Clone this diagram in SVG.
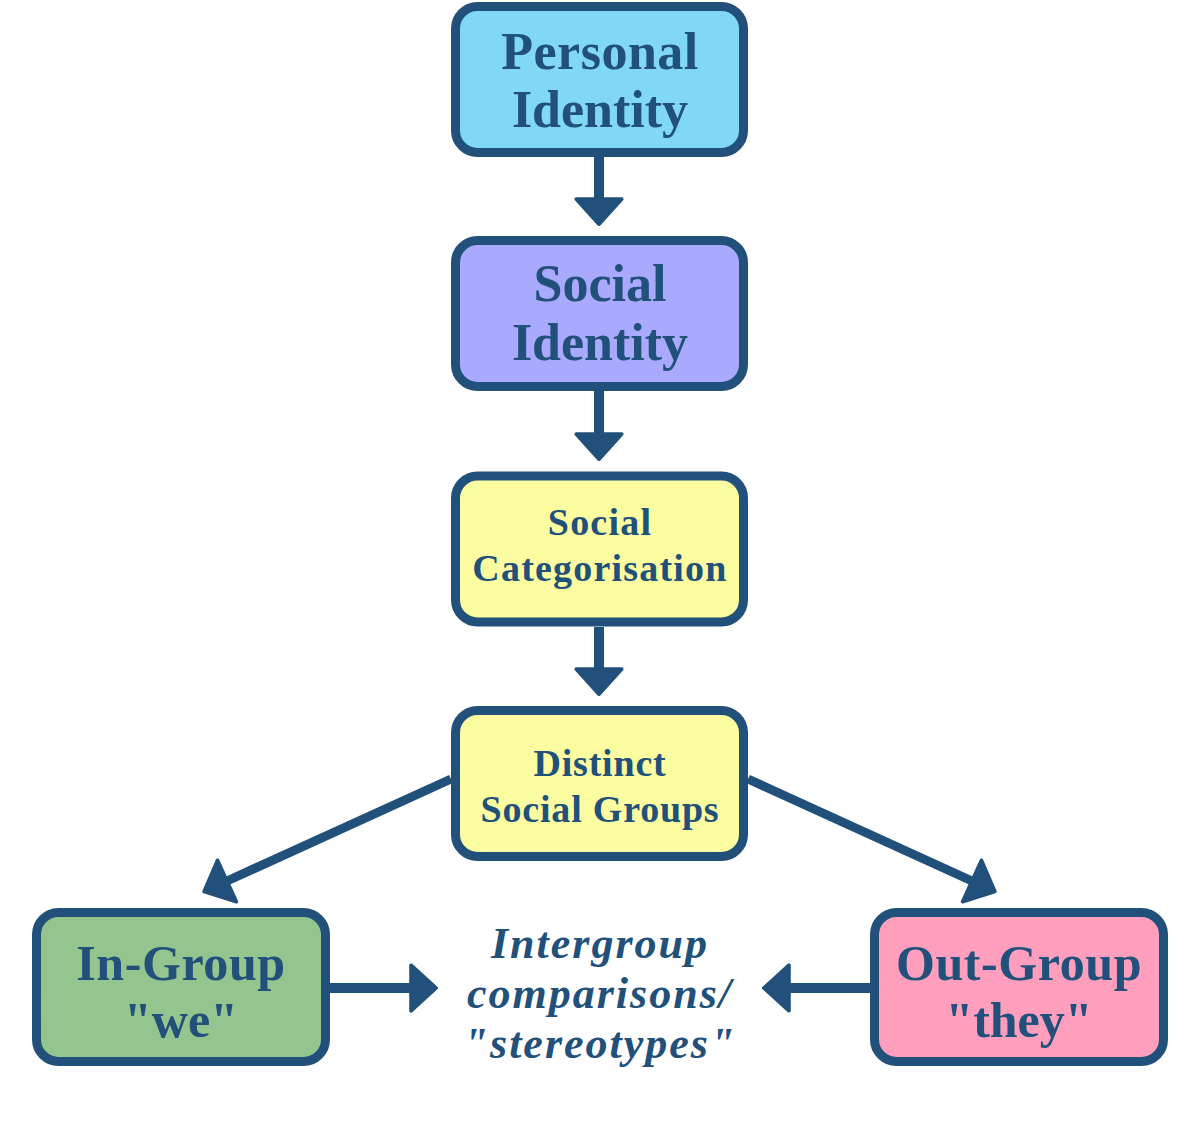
<svg xmlns="http://www.w3.org/2000/svg" width="1200" height="1132" viewBox="0 0 1200 1132">
<style>
.box{stroke:#21507A;stroke-width:9}
.t{font-family:"Liberation Serif","DejaVu Serif",serif;font-weight:bold;fill:#21507A;text-anchor:middle}
.it{font-style:italic}
.c{stroke:#21507A;stroke-width:10;fill:none}
</style>
<defs>
<marker id="ah" markerUnits="userSpaceOnUse" markerWidth="60" markerHeight="60" viewBox="-5 -25 35 50" refX="0" refY="0" orient="auto" overflow="visible">
<path d="M0,-19 L21,0 L0,19 Z" fill="#21507A" stroke="#21507A" stroke-width="3" stroke-linejoin="round"/>
</marker>
</defs>
<rect width="1200" height="1132" fill="#ffffff"/>
<g id="connectors">
<line class="c" x1="599" y1="157" x2="599" y2="199" marker-end="url(#ah)"/>
<line class="c" x1="599" y1="391" x2="599" y2="434" marker-end="url(#ah)"/>
<line class="c" x1="599" y1="627" x2="599" y2="669" marker-end="url(#ah)"/>
<line class="c" x1="451" y1="779" x2="227" y2="881" marker-end="url(#ah)" style="stroke-width:9"/>
<line class="c" x1="748" y1="779" x2="972" y2="881" marker-end="url(#ah)" style="stroke-width:9"/>
<line class="c" x1="330" y1="988" x2="411" y2="988" marker-end="url(#ah)"/>
<line class="c" x1="870" y1="988" x2="789" y2="988" marker-end="url(#ah)"/>
</g>
<g id="personal-identity">
<rect class="box" x="455.5" y="6.5" width="288" height="146" rx="22" fill="#80D8F6"/>
<text class="t" x="600" y="69" font-size="52" letter-spacing="0.5">Personal</text>
<text class="t" x="600" y="127" font-size="52">Identity</text>
</g>
<g id="social-identity">
<rect class="box" x="455.5" y="240.5" width="288" height="146" rx="22" fill="#A9A9FF"/>
<text class="t" x="600" y="301" font-size="52">Social</text>
<text class="t" x="600" y="360" font-size="52">Identity</text>
</g>
<g id="social-categorisation">
<rect class="box" x="455.5" y="476" width="288" height="146" rx="22" fill="#FBFDA0"/>
<text class="t" x="600" y="535" font-size="38" letter-spacing="1.2">Social</text>
<text class="t" x="600" y="581" font-size="38" letter-spacing="1.2">Categorisation</text>
</g>
<g id="distinct-social-groups">
<rect class="box" x="455.5" y="710.5" width="288" height="146" rx="22" fill="#FBFDA0"/>
<text class="t" x="600" y="776" font-size="38" letter-spacing="0.8">Distinct</text>
<text class="t" x="600" y="822" font-size="38" letter-spacing="0.8">Social Groups</text>
</g>
<g id="in-group">
<rect class="box" x="36.5" y="912.5" width="289" height="149" rx="22" fill="#95C58F"/>
<text class="t" x="181" y="980" font-size="50" letter-spacing="0.6">In-Group</text>
<text class="t" x="181" y="1037" font-size="50">"we"</text>
</g>
<g id="out-group">
<rect class="box" x="874.5" y="912.5" width="289" height="149" rx="22" fill="#FF9FBD"/>
<text class="t" x="1019" y="980" font-size="50" letter-spacing="0.6">Out-Group</text>
<text class="t" x="1019" y="1037" font-size="50">"they"</text>
</g>
<g id="intergroup-comparisons">
<text class="t it" x="600" y="958" font-size="44" letter-spacing="2">Intergroup</text>
<text class="t it" x="600" y="1008" font-size="44" letter-spacing="2">comparisons/</text>
<text class="t it" x="600" y="1058" font-size="44" letter-spacing="2">"stereotypes"</text>
</g>
</svg>
